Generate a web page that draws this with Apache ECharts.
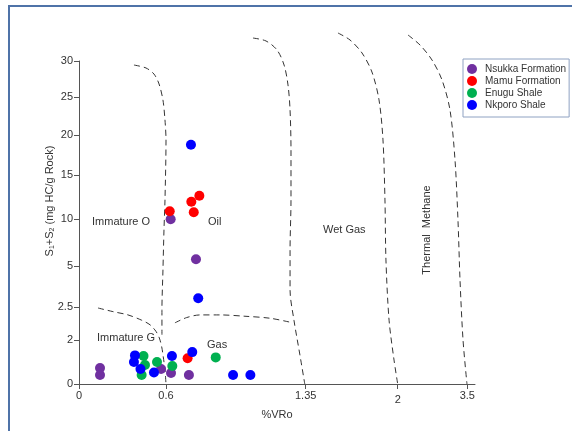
<!DOCTYPE html>
<html><head><meta charset="utf-8">
<script src="https://cdn.jsdelivr.net/npm/echarts@6/dist/echarts.min.js"></script>
<style>html,body{margin:0;padding:0;background:#fff}#c{width:572px;height:431px}</style>
</head><body><div id="c"></div>
<script>
// ---- data (x = %VRo, y = S1+S2 mg HC/g Rock) ----
const seriesNames = ['Nsukka Formation','Mamu Formation','Enugu Shale','Nkporo Shale'];
const nsukka = [[0.145,0.73],[0.145,0.41],[0.566,0.68],[0.627,0.5],[0.723,0.41],[0.625,9.97],[0.761,5.71]];
const mamu   = [[0.716,1.17],[0.779,12.65],[0.736,11.97],[0.62,10.88],[0.749,10.76]];
const enugu  = [[0.445,1.27],[0.455,0.86],[0.432,0.41],[0.538,1.0],[0.634,0.82],[0.867,1.21]];
const nkporo = [[0.386,1.3],[0.379,1.0],[0.424,0.68],[0.517,0.52],[0.632,1.27],[0.741,1.45],[0.96,0.41],[1.053,0.41],[0.734,18.79],[0.773,3.03]];
const colors = ['#7030a0','#ff0000','#00b050','#0000ff'];

// tick values / labels
const xTicks = [0,0.6,1.35,2,3.5];
const xTickLabels = ['0','0.6','1.35','{low|2}','3.5'];
const yTicks = [0,2,2.5,5,10,15,20,25,30];
const yTickLabels = ['0','2','2.5','5','10','15','20','25','30'];

// zone boundaries (dashed), in data units
const bImmO = [[0.379,29.44],[0.462,29.03],[0.517,28.19],[0.552,26.81],[0.579,24.6],[0.593,21.97],[0.6,19.38],[0.593,12.16],[0.586,8.83],[0.579,4.76],[0.572,2.45],[0.572,2.08]];
const bImmG = [[0.131,2.485],[0.234,2.43],[0.338,2.38],[0.432,2.30],[0.49,2.23],[0.531,2.13],[0.554,2.03],[0.570,1.70],[0.581,1.24],[0.593,0.64],[0.6,0]];
const bGas  = [[0.648,2.26],[0.711,2.34],[0.783,2.38],[0.890,2.38],[1.024,2.36],[1.158,2.33],[1.266,2.27]];
const bWet  = [[1.067,33.19],[1.137,32.78],[1.196,31.53],[1.234,29.44],[1.255,26.67],[1.266,23.29],[1.271,18.13],[1.271,12.16],[1.266,6.70],[1.266,3.54],[1.287,2.30],[1.319,1.32],[1.345,0]];
const bTherm= [[1.578,33.89],[1.663,32.92],[1.748,31.11],[1.818,28.47],[1.868,24.61],[1.896,19.38],[1.910,12.16],[1.917,5.64],[1.939,2.30],[1.974,1.09],[2.0,0]];
const bMeth = [[2.222,33.61],[2.481,32.22],[2.739,30.14],[2.955,27.36],[3.127,23.29],[3.235,16.88],[3.299,9.89],[3.343,4.15],[3.408,2.0],[3.493,0]];

// ---- piecewise axis scale (tick position along axis, px units) ----
const xScalePos = [0,87,226.7,318.7,388.3];
const yScalePos = [0,44,77,118,165,209,249,287,323];
function pw(v, vals, pos){
  let i = 0;
  while (i < vals.length-2 && v > vals[i+1]) i++;
  const t = (v - vals[i]) / (vals[i+1] - vals[i]);
  return pos[i] + t * (pos[i+1] - pos[i]);
}
const tx = p => [pw(p[0], xTicks, xScalePos), pw(p[1], yTicks, yScalePos)];
function lab(val, pos, labels){
  const i = pos.findIndex(p => Math.abs(p - val) < 0.05);
  return i >= 0 ? labels[i] : '';
}

const FONT = 'Liberation Sans, Arial, sans-serif';
const axisCol = '#555';
const txtCol = '#333';

const chart = echarts.init(document.getElementById('c'));
const dash = {color:'#333', width:1, type:[6,4]};
const boundaries = [bImmO,bImmG,bGas,bWet,bTherm,bMeth].map(b => ({
  type:'line', data:b.map(tx), showSymbol:false, symbol:'none', smooth:0.3, clip:false, silent:true,
  lineStyle:dash, z:1
}));
const pts = [nsukka,mamu,enugu,nkporo].map((d,i) => ({
  name:seriesNames[i], type:'scatter', data:d.map(tx), symbolSize:10,
  itemStyle:{color:colors[i], opacity:1}, z:3
}));

chart.setOption({
  animation:false,
  grid:{left:79, top:61, width:396, height:323, outerBoundsMode:'none', containLabel:false},
  xAxis:{type:'value', min:0, max:396,
    axisLine:{show:true, lineStyle:{color:axisCol, width:1}},
    axisTick:{show:true, length:5, customValues:xScalePos, lineStyle:{color:axisCol}},
    axisLabel:{customValues:xScalePos, margin:6, color:txtCol, fontSize:11, fontFamily:FONT,
      formatter:v => lab(v, xScalePos, xTickLabels),
      rich:{low:{fontSize:11, fontFamily:FONT, color:txtCol, padding:[4,0,0,0]}}},
    splitLine:{show:false},
    name:'%VRo', nameLocation:'middle', nameGap:25,
    nameTextStyle:{color:txtCol, fontSize:11, fontFamily:FONT}
  },
  yAxis:{type:'value', min:0, max:323,
    axisLine:{show:true, lineStyle:{color:axisCol, width:1}},
    axisTick:{show:true, length:5, customValues:yScalePos, lineStyle:{color:axisCol}},
    axisLabel:{customValues:yScalePos, margin:6, color:txtCol, fontSize:11, fontFamily:FONT,
      formatter:v => lab(v, yScalePos, yTickLabels)},
    splitLine:{show:false}
  },
  legend:{data:seriesNames, orient:'vertical', left:463, top:59, icon:'circle',
    itemWidth:10, itemHeight:10, itemGap:2, selectedMode:false,
    padding:[5,3,7,4], borderColor:'#8fa2c2', borderWidth:1, backgroundColor:'#fff',
    textStyle:{fontSize:10, fontFamily:FONT, color:txtCol, padding:[0,0,0,3]}
  },
  graphic:[
    {type:'rect', shape:{x:9,y:6,width:620,height:500}, style:{fill:'none', stroke:'#4f73a8', lineWidth:2}, silent:true},
    {type:'text', x:50, y:201, rotation:Math.PI/2, style:{
      text:'S{s|1}+S{s|2} (mg HC/g Rock)', fill:txtCol, font:'11px '+FONT, align:'center', verticalAlign:'middle',
      rich:{s:{fontSize:7, fill:txtCol, verticalAlign:'bottom', padding:[4,0,0,0]}}}},
    {type:'text', x:92, y:222, style:{text:'Immature O', fill:txtCol, font:'11px '+FONT, verticalAlign:'middle'}},
    {type:'text', x:208, y:222, style:{text:'Oil', fill:txtCol, font:'11px '+FONT, verticalAlign:'middle'}},
    {type:'text', x:323, y:230, style:{text:'Wet Gas', fill:txtCol, font:'11px '+FONT, verticalAlign:'middle'}},
    {type:'text', x:427, y:230, rotation:Math.PI/2, style:{text:'Thermal  Methane', fill:txtCol, font:'11px '+FONT, align:'center', verticalAlign:'middle'}},
    {type:'text', x:97, y:338, style:{text:'Immature G', fill:txtCol, font:'11px '+FONT, verticalAlign:'middle'}},
    {type:'text', x:207, y:345, style:{text:'Gas', fill:txtCol, font:'11px '+FONT, verticalAlign:'middle'}}
  ],
  series:[...boundaries, ...pts]
});
</script>
</body></html>
